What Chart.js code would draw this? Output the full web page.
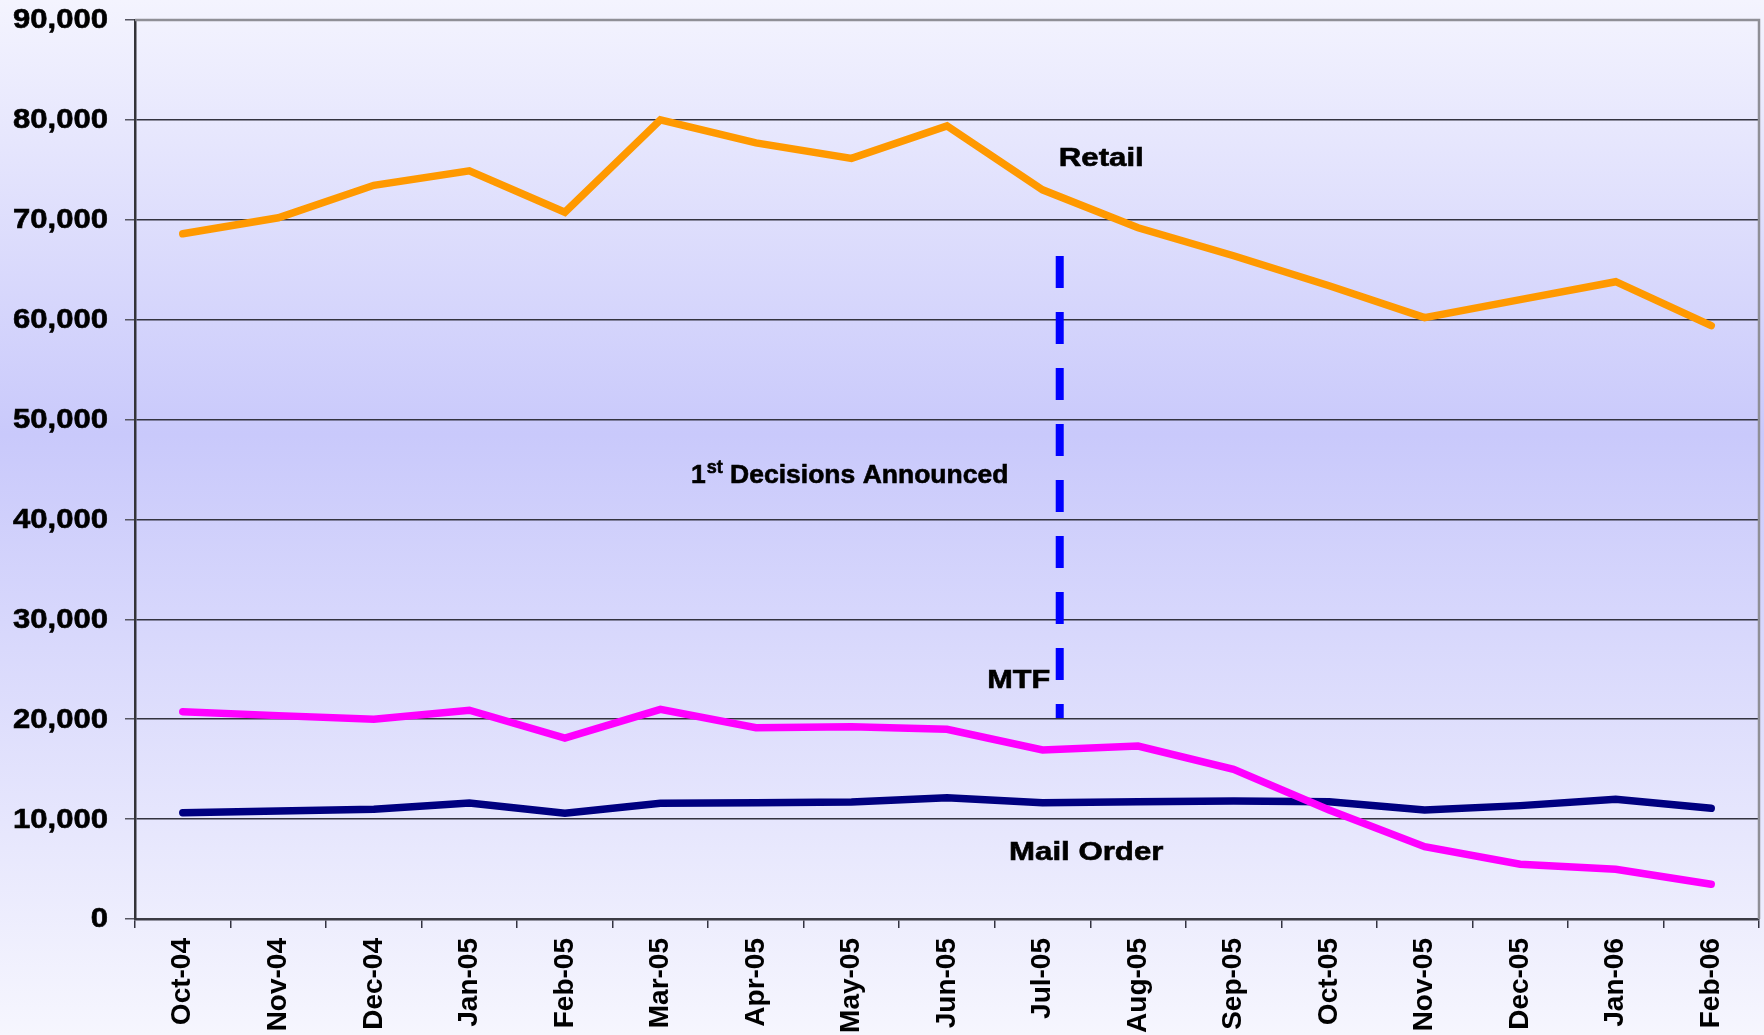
<!DOCTYPE html>
<html>
<head>
<meta charset="utf-8">
<script src="https://cdn.jsdelivr.net/npm/chart.js@4.4.1/dist/chart.umd.min.js"></script>
<style>
  html, body { margin: 0; padding: 0; background: #f4f4fe; }
  #wrap { width: 1764px; height: 1035px; }
</style>
</head>
<body>
<div id="wrap"><canvas id="c" width="1764" height="1035"></canvas></div>
<script>
const categories = ["Oct-04","Nov-04","Dec-04","Jan-05","Feb-05","Mar-05","Apr-05","May-05","Jun-05","Jul-05","Aug-05","Sep-05","Oct-05","Nov-05","Dec-05","Jan-06","Feb-06"];
const retail    = [68600,70200,73450,74900,70750,80000,77700,76150,79400,73000,69200,66400,63400,60200,62000,63800,59400];
const mtf       = [20750,20360,19990,20900,18100,20990,19150,19250,18990,16920,17320,14990,10910,7240,5480,4980,3480];
const mailOrder = [10640,10800,10980,11600,10600,11580,11640,11710,12140,11640,11740,11810,11740,10910,11350,11980,11080];
const yTicks = [0,10000,20000,30000,40000,50000,60000,70000,80000,90000];

// event marker: position between Jul-05 and Aug-05, spanning values
const markerIndex = 9.18;
const markerRange = [20120, 66370];

// text annotations: [text, categoryPosition, value, align, horizontal stretch]
const annotations = [
  ["Retail", 9.17, 75370, "left", 1.2],
  ["MTF", 9.08, 23120, "right", 1.18],
  ["Mail Order", 8.65, 5905, "left", 1.2]
];
const decisionsLabel = ["1", "st", " Decisions Announced"];
const decisionsPos = [5.32, 43640];

const FONT = "'Liberation Sans', Arial, sans-serif";

function xPix(x, pos) {
  const i = Math.floor(pos);
  const f = pos - i;
  const a = x.getPixelForValue(i);
  const b = x.getPixelForValue(i + 1);
  return a + (b - a) * f;
}

function heavyText(ctx, t, x, y) {
  ctx.fillText(t, x, y);
  ctx.strokeText(t, x, y);
}

const bgPlugin = {
  id: 'bg',
  beforeDraw(chart) {
    const ctx = chart.ctx;
    const g = ctx.createLinearGradient(0, 0, 0, chart.height);
    g.addColorStop(0, '#f4f4fe');
    g.addColorStop(0.42, '#c9c9fb');
    g.addColorStop(1, '#f6f6fe');
    ctx.save();
    ctx.fillStyle = g;
    ctx.fillRect(0, 0, chart.width, chart.height);
    ctx.restore();
  }
};

const overlayPlugin = {
  id: 'overlay',
  afterDraw(chart) {
    const ctx = chart.ctx;
    const x = chart.scales.x, y = chart.scales.y;
    const ca = chart.chartArea;
    ctx.save();
    // top and right plot border
    ctx.strokeStyle = '#8f8f96';
    ctx.lineWidth = 2.5;
    ctx.beginPath();
    ctx.moveTo(ca.left, ca.top);
    ctx.lineTo(ca.right, ca.top);
    ctx.lineTo(ca.right, ca.bottom);
    ctx.stroke();

    ctx.fillStyle = '#000000';
    ctx.strokeStyle = '#000000';
    ctx.lineWidth = 0.6;

    // y tick labels (wide bold face, as in the original)
    ctx.textBaseline = 'middle';
    ctx.textAlign = 'right';
    ctx.font = 'bold 27px ' + FONT;
    y.ticks.forEach(t => {
      const py = y.getPixelForValue(t.value);
      ctx.save();
      ctx.translate(ca.left - 27, py + 1);
      ctx.scale(1.15, 1);
      heavyText(ctx, t.value.toLocaleString('en-US'), 0, 0);
      ctx.restore();
    });

    // dashed event marker
    const mx = xPix(x, markerIndex);
    ctx.save();
    ctx.strokeStyle = '#0000ff';
    ctx.lineWidth = 8;
    ctx.setLineDash([32, 24]);
    ctx.lineCap = 'butt';
    ctx.beginPath();
    ctx.moveTo(mx, y.getPixelForValue(markerRange[1]));
    ctx.lineTo(mx, y.getPixelForValue(markerRange[0]));
    ctx.stroke();
    ctx.restore();

    // labels
    ctx.textBaseline = 'alphabetic';
    ctx.font = 'bold 26px ' + FONT;
    annotations.forEach(([t, p, v, align, sx]) => {
      const px = xPix(x, p), py = y.getPixelForValue(v);
      ctx.save();
      ctx.translate(px, py);
      ctx.scale(sx, 1);
      ctx.textAlign = align;
      heavyText(ctx, t, 0, 0);
      ctx.restore();
    });

    // 1st Decisions Announced
    let px = xPix(x, decisionsPos[0]);
    const py = y.getPixelForValue(decisionsPos[1]);
    ctx.textAlign = 'left';
    ctx.font = 'bold 26.5px ' + FONT;
    heavyText(ctx, decisionsLabel[0], px, py);
    px += ctx.measureText(decisionsLabel[0]).width + 1;
    ctx.font = 'bold 18px ' + FONT;
    heavyText(ctx, decisionsLabel[1], px, py - 10);
    px += ctx.measureText(decisionsLabel[1]).width;
    ctx.font = 'bold 26.5px ' + FONT;
    heavyText(ctx, decisionsLabel[2], px, py);
    ctx.restore();
  }
};

const lineStyle = { borderWidth: 7.5, pointRadius: 0, tension: 0, borderCapStyle: 'round', borderJoinStyle: 'miter', fill: false };

new Chart(document.getElementById('c'), {
  type: 'line',
  data: {
    labels: categories,
    datasets: [
      Object.assign({ label: 'Retail', data: retail, borderColor: '#ff9900' }, lineStyle),
      Object.assign({ label: 'MTF', data: mtf, borderColor: '#ff00ff' }, lineStyle),
      Object.assign({ label: 'Mail Order', data: mailOrder, borderColor: '#000080' }, lineStyle)
    ]
  },
  options: {
    responsive: false,
    devicePixelRatio: 1,
    animation: false,
    layout: { padding: { top: 20, right: 5, left: 0, bottom: 0 } },
    plugins: { legend: { display: false }, tooltip: { enabled: false } },
    scales: {
      x: {
        type: 'category',
        offset: true,
        grid: { display: true, drawOnChartArea: false, drawTicks: true, tickLength: 9, offset: true, color: '#333340', lineWidth: 1.5 },
        border: { display: true, color: '#3a3a44', width: 2.5 },
        ticks: {
          color: '#000000',
          font: { family: FONT, size: 28, weight: 'bold' },
          minRotation: 90, maxRotation: 90,
          autoSkip: false,
          padding: 10
        },
        afterFit(s) { s.height = 116; s.paddingLeft = 0; s.paddingRight = 0; }
      },
      y: {
        min: 0, max: 90000,
        afterBuildTicks(s) { s.ticks = yTicks.map(v => ({ value: v })); },
        grid: {
          color: (c) => c.tick && c.tick.value === 90000 ? 'rgba(0,0,0,0)' : '#33333f',
          lineWidth: 1.5,
          drawTicks: true,
          tickLength: 10,
          tickColor: '#555560'
        },
        border: { display: true, color: '#333338', width: 2.5 },
        ticks: {
          color: 'rgba(0,0,0,0)',
          font: { family: FONT, size: 27, weight: 'bold' },
          padding: 16,
          callback: (v) => v.toLocaleString('en-US')
        },
        afterFit(s) { s.width = 135; s.paddingTop = 0; s.paddingBottom = 0; }
      }
    }
  },
  plugins: [bgPlugin, overlayPlugin]
});
</script>
</body>
</html>
